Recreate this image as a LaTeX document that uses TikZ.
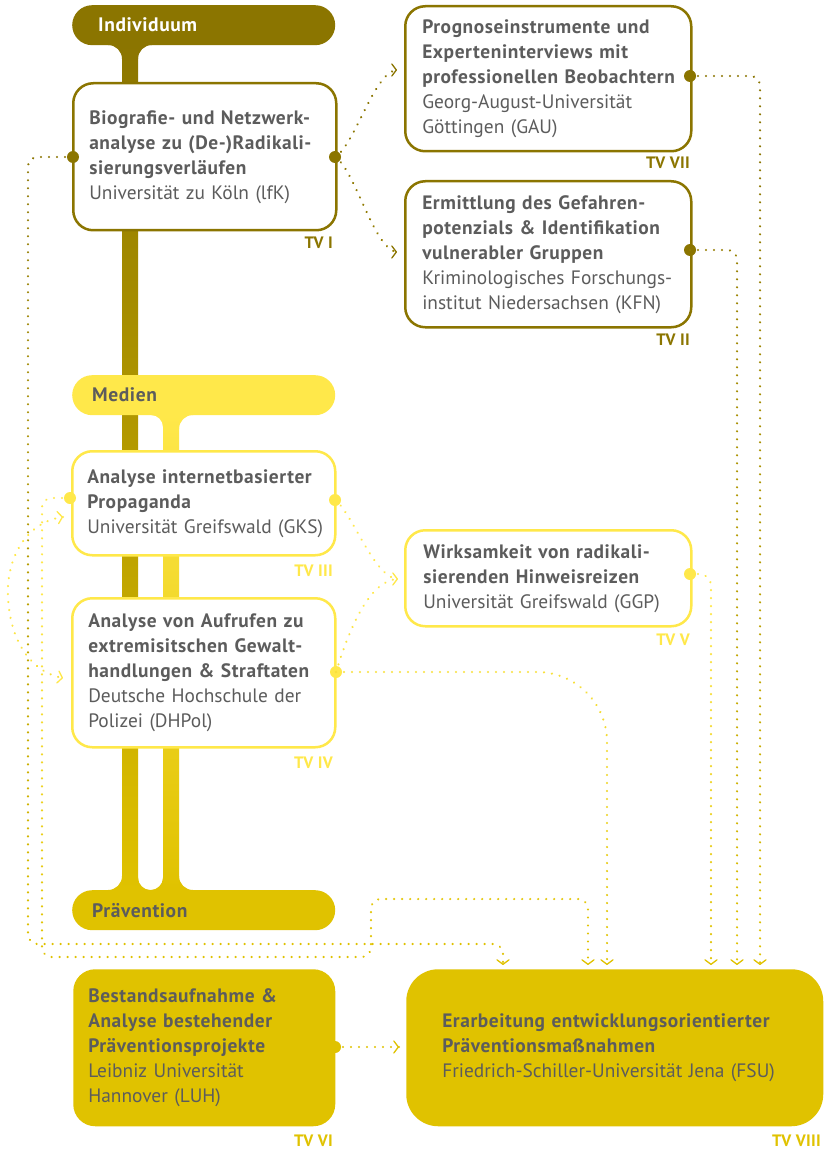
\documentclass[tikz,border=0pt]{standalone}
\usepackage{fontspec}
\setmainfont{PT Sans}
\usetikzlibrary{arrows.meta,decorations.markings}
\definecolor{cInd}{RGB}{139,117,0}
\definecolor{cMed}{RGB}{255,232,74}
\definecolor{cPrae}{RGB}{224,194,0}
\definecolor{cTxt}{RGB}{92,92,92}
\newcommand\gdot[4]{%
  \pgfgettransformentries{\gTa}{\gTb}{\gTc}{\gTd}{\gTx}{\gTy}%
  \pgfmathtruncatemacro\gPct{max(0,min(100,((0-(\gTy))-(#3))/((#4)-(#3))*100))}%
  \fill[#2!\gPct!#1] (0,0) circle (1.2pt);%
}
\newcommand\fillet[5]{%
  \fill[#1] (#2,#3) -- ({#2+(#4)},#3) .. controls ({#2+0.4477*(#4)},#3) and (#2,{#3+0.4477*(#5)}) .. (#2,{#3+(#5)}) -- cycle;}
\newcommand\bline[1]{\mbox{\bfseries\addfontfeature{LetterSpace=3}#1}}
\newcommand\rline[1]{\mbox{#1}}
\newcommand\boxfont{\fontsize{19.4}{25}\selectfont}
\newcommand\pillfont{\fontsize{19.5}{22}\selectfont\bfseries\addfontfeature{LetterSpace=3}}
\newcommand\tvfont{\fontsize{16.5}{18}\selectfont\bfseries\addfontfeature{LetterSpace=2}}
\tikzset{
  conn/.style n args={4}{postaction={decorate}, decoration={markings,
     mark=between positions 0 and 1 step 8pt with {\gdot{#1}{#2}{#3}{#4}}}},
  oconn/.style={conn={cInd}{cPrae}{150}{950}},
  yconn/.style={conn={cMed}{cPrae}{600}{950}},
  pconn/.style={conn={cPrae}{cPrae}{0}{1100}},
  arrtip/.style={draw=#1, line width=1.3pt, line cap=butt, dash pattern=on 0pt off 200pt,
     -{Straight Barb[length=4.5pt,width=12pt,line cap=round,line join=round]}},
  tvbox/.style={draw, line width=2.5pt, rounded corners=20pt, fill=white, anchor=north west,
     inner ysep=0pt, align=left, text=cTxt, font=\boxfont},
  pill/.style={rounded corners=20pt, anchor=north west, minimum width=263pt, minimum height=40pt,
     inner xsep=20pt, inner ysep=0pt, text width=223pt, align=left, font=\pillfont},
  tvl/.style={anchor=east, inner sep=0pt, font=\tvfont},
  bdot/.style={circle, inner sep=0pt, minimum size=12pt},
}
\begin{document}
\begin{tikzpicture}[x=1pt,y=-1pt]
\useasboundingbox (0,0) rectangle (825,1150);
\fill[white] (0,0) rectangle (825,1150);
% bars
\shade[top color=cInd, bottom color=cPrae] (122,44) rectangle (138,890);
\shade[top color=cMed, bottom color=cPrae] (163,414) rectangle (179,890);
\fillet{cInd}{122}{45}{-14}{14}
\fillet{cInd}{138}{45}{14}{14}
\fillet{cMed}{163}{415}{-12}{12}
\fillet{cMed}{179}{415}{14}{14}
\fillet{cPrae}{122}{890}{-14}{-14}
\fillet{cPrae}{138}{890}{12.5}{-12.5}
\fillet{cPrae}{163}{890}{-12.5}{-12.5}
\fillet{cPrae}{179}{890}{14}{-14}
% pills
\node[pill, fill=cInd, text=white, inner xsep=26pt, text width=211pt] (ind) at (72,5) {Individuum};
\node[pill, fill=cMed, text=cTxt] (med) at (72,375) {Medien};
\node[pill, fill=cPrae, text=cTxt] (prae) at (72,890) {Prävention};
% boxes
\node[tvbox, draw=cInd, minimum width=263pt, minimum height=147pt, inner xsep=16pt, text width=231pt] (b1) at (72,82)
  {\bline{Biografie- und Netzwerk-}\\\bline{analyse zu (De-)Radikali-}\\\bline{sierungsverläufen}\\\rline{Universität zu Köln (lfK)}};
\node[tvbox, draw=cInd, minimum width=286pt, minimum height=145pt, inner xsep=17pt, text width=252pt] (b7) at (404,5)
  {\bline{Prognoseinstrumente und}\\\bline{Experteninterviews mit}\\\bline{professionellen Beobachtern}\\\rline{Georg-August-Universität}\\\rline{Göttingen (GAU)}};
\node[tvbox, draw=cInd, minimum width=286pt, minimum height=146pt, inner xsep=17pt, text width=252pt] (b2) at (404,180)
  {\bline{Ermittlung des Gefahren-}\\\bline{potenzials \& Identifikation}\\\bline{vulnerabler Gruppen}\\\rline{Kriminologisches Forschungs-}\\\rline{institut Niedersachsen (KFN)}};
\node[tvbox, draw=cMed, minimum width=263pt, minimum height=104pt, inner xsep=15pt, text width=233pt] (b3) at (71,450)
  {\bline{Analyse internetbasierter}\\\bline{Propaganda}\\\rline{Universität Greifswald (GKS)}};
\node[tvbox, draw=cMed, minimum width=286pt, minimum height=96pt, inner xsep=18pt, text width=250pt] (b5) at (404,529)
  {\bline{Wirksamkeit von radikali-}\\\bline{sierenden Hinweisreizen}\\\rline{Universität Greifswald (GGP)}};
\node[tvbox, draw=cMed, minimum width=263pt, minimum height=149pt, inner xsep=16pt, text width=231pt] (b4) at (71,597)
  {\bline{Analyse von Aufrufen zu}\\\bline{extremisitschen Gewalt-}\\\bline{handlungen \& Straftaten}\\\rline{Deutsche Hochschule der}\\\rline{Polizei (DHPol)}};
\node[tvbox, draw=none, fill=cPrae, rounded corners=22pt, minimum width=262pt, minimum height=157pt, inner xsep=15pt, text width=232pt] (b6) at (72,968)
  {\bline{Bestandsaufnahme \&}\\\bline{Analyse bestehender}\\\bline{Präventionsprojekte}\\\rline{Leibniz Universität}\\\rline{Hannover (LUH)}};
\node[tvbox, draw=none, fill=cPrae, rounded corners=32pt, minimum width=417pt, minimum height=157pt, inner xsep=36pt, text width=345pt] (b8) at (405,968)
  {\bline{Erarbeitung entwicklungsorientierter}\\\bline{Präventionsmaßnahmen}\\\rline{Friedrich-Schiller-Universität Jena (FSU)}};
% labels
\node[tvl, text=cInd] (l1) at (333,243) {TV I};
\node[tvl, text=cInd] (l7) at (690,163) {TV VII};
\node[tvl, text=cInd] (l2) at (690,340) {TV II};
\node[tvl, text=cMed] (l3) at (333,571) {TV III};
\node[tvl, text=cMed] (l5) at (690,640) {TV V};
\node[tvl, text=cMed] (l4) at (333,763) {TV IV};
\node[tvl, text=cPrae] (l6) at (333,1141) {TV VI};
\node[tvl, text=cPrae] (l8) at (821,1141) {TV VIII};
% connector dots
\node[bdot, fill=cInd] (d1r) at (335,157) {};
\node[bdot, fill=cInd] (d1l) at (73,157) {};
\node[bdot, fill=cInd] (d7) at (690,76) {};
\node[bdot, fill=cInd] (d2) at (690,250) {};
\node[bdot, fill=cMed] (d3l) at (70,498) {};
\node[bdot, fill=cMed] (d3r) at (335,500) {};
\node[bdot, fill=cMed] (d4) at (336,672) {};
\node[bdot, fill=cMed] (d5) at (690,574) {};
\node[bdot, fill=cPrae] (d6) at (335,1047) {};
% targets
\coordinate (t7) at (397,70);
\coordinate (t2) at (397,252);
\coordinate (t5) at (398,579);
\coordinate (t3) at (63,517);
\coordinate (t4) at (63,678);
\coordinate (t8a) at (503,965);
\coordinate (t8b) at (588,965);
\coordinate (t8c) at (607,965);
\coordinate (t8d) at (711,965);
\coordinate (t8e) at (737,965);
\coordinate (t8f) at (760,965);
\coordinate (t8g) at (399,1047);
% connectors
\path[oconn] (d1r.center) .. controls (355,145) and (374,72) .. (t7);
\path[oconn] (d1r.center) .. controls (355,169) and (374,250) .. (t2);
\path[oconn, rounded corners=10pt] (d1l.center) -- (28,157) -- (28,944) -- (503,944) -- (t8a);
\path[oconn, rounded corners=10pt] (d7.center) -- (760,76) -- (t8f);
\path[oconn, rounded corners=10pt] (d2.center) -- (737,250) -- (t8e);
\path[yconn, rounded corners=10pt] (d3l.center) -- (42,498) -- (42,957) -- (371,957) -- (371,899) -- (588,899) -- (t8b);
\path[yconn] (d3r.center) .. controls (352,512) and (374,578) .. (t5);
\path[yconn] (d4.center) .. controls (352,620) and (372,580) .. (t5);
\path[yconn, rounded corners=70pt] (d4.center) -- (607,672) -- (t8c);
\path[yconn, rounded corners=12pt] (d5.center) -- (711,574) -- (t8d);
\path[yconn] (t3) .. controls (25,522) and (6,560) .. (8,597) .. controls (10,640) and (30,672) .. (t4);
\path[pconn] (d6.center) -- (t8g);
% arrow tips
\draw[arrtip=cInd] ([xshift=-8pt]t7) -- (t7);
\draw[arrtip=cInd] ([xshift=-8pt]t2) -- (t2);
\draw[arrtip=cMed] ([xshift=-8pt]t5) -- (t5);
\draw[arrtip=cMed] ([xshift=-8pt,yshift=-1pt]t3) -- (t3);
\draw[arrtip=cMed] ([xshift=-8pt,yshift=1.5pt]t4) -- (t4);
\foreach \t in {t8a,t8b,t8c,t8d,t8e,t8f} \draw[arrtip=cPrae] ([yshift=8pt]\t) -- (\t);
\draw[arrtip=cPrae] ([xshift=-8pt]t8g) -- (t8g);
\end{tikzpicture}
\end{document}
